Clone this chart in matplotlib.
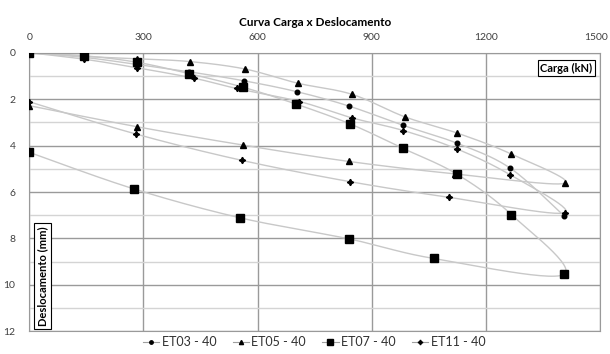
import matplotlib.pyplot as plt
import numpy as np
from matplotlib.transforms import ScaledTranslation

plt.rcParams['font.family'] = ['Lato', 'DejaVu Sans']

# carga (kN) e deslocamento (mm) de cada ensaio: carregamento e descarregamento
et03_carga = [0, 145, 282, 420, 565, 704, 841, 983, 1123, 1264, 1405]
et03_desl = [0, 0.20, 0.50, 0.82, 1.21, 1.68, 2.30, 3.13, 3.89, 4.97, 7.02]

et05_carga = [0, 145, 283, 422, 567, 705, 848, 987, 1123, 1265, 1408,
              1120, 839, 563, 284, 0]
et05_desl = [0, 0.16, 0.26, 0.38, 0.70, 1.31, 1.79, 2.76, 3.45, 4.35, 5.62,
             5.22, 4.68, 3.98, 3.19, 2.28]

et07_carga = [0, 145, 283, 420, 563, 701, 844, 981, 1125, 1267, 1405,
              1063, 841, 554, 274, 0]
et07_desl = [0, 0.13, 0.41, 0.90, 1.49, 2.21, 3.07, 4.11, 5.24, 6.97, 9.55,
             8.86, 8.02, 7.11, 5.86, 4.29]

et11_carga = [0, 145, 284, 434, 545, 710, 847, 983, 1125, 1264, 1407,
              1104, 842, 560, 280, 0]
et11_desl = [0, 0.28, 0.65, 1.10, 1.54, 2.10, 2.80, 3.35, 4.15, 5.26, 6.89,
             6.23, 5.55, 4.64, 3.50, 2.11]

nomes = ['ET03 - 40', 'ET05 - 40', 'ET07 - 40', 'ET11 - 40']
marcadores = [('o', 3.3), ('^', 4.0), ('s', 5.2), ((4, 1, 0), 4.6)]


def suavizar(x, y, n=30):
    # linha suavizada estilo Excel (bezier com tangentes de Catmull-Rom)
    p = np.column_stack([x, y]).astype(float)
    p = np.vstack([p[0], p, p[-1]])
    t = np.linspace(0, 1, n)[:, None]
    pts = []
    for i in range(1, len(p) - 2):
        p0, p3 = p[i], p[i + 1]
        c1 = p0 + (p[i + 1] - p[i - 1]) / 6
        c2 = p3 - (p[i + 2] - p[i]) / 6
        seg = ((1 - t) ** 3 * p0 + 3 * (1 - t) ** 2 * t * c1
               + 3 * (1 - t) * t ** 2 * c2 + t ** 3 * p3)
        pts.append(seg)
    pts = np.vstack(pts)
    return pts[:, 0], pts[:, 1]


fig = plt.figure(figsize=(6.1, 3.54), dpi=100)
ax = fig.add_axes([0.048, 0.064, 0.9356, 0.787])

dados = [(et03_carga, et03_desl), (et05_carga, et05_desl),
         (et07_carga, et07_desl), (et11_carga, et11_desl)]
for (cx, dy), nome, (mk, ms) in zip(dados, nomes, marcadores):
    sx, sy = suavizar(cx, dy)
    ax.plot(sx, sy, color='#c8c8c8', lw=1.0, zorder=2)
    ax.plot(cx, dy, ls='none', marker=mk, ms=ms, color='black', zorder=3)
    ax.plot([], [], color='#a0a0a0', lw=0.8, marker=mk, ms=ms * 0.75,
            mfc='black', mec='black', label=nome)

ax.set_xlim(0, 1500)
ax.set_ylim(12, 0)
ax.set_xticks([0, 300, 600, 900, 1200, 1500])
ax.set_yticks([0, 2, 4, 6, 8, 10, 12])
ax.set_yticks([1, 3, 5, 7, 9, 11], minor=True)
ax.xaxis.tick_top()
ax.tick_params(which='both', length=0, labelsize=7.5, colors='#404040', pad=8)
ax.tick_params(axis='y', pad=10)
ax.grid(True, which='major', color='#9a9a9a', lw=1.0)
ax.grid(True, which='minor', axis='y', color='#d4d4d4', lw=1.0)
ax.set_axisbelow(True)
for s in ax.spines.values():
    s.set_color('#9a9a9a')

# o último rótulo do eixo x fica um pouco para dentro da figura
fig.canvas.draw()
ultimo = ax.get_xticklabels()[-1]
ultimo.set_transform(ultimo.get_transform()
                     + ScaledTranslation(-3 / 72, 0, fig.dpi_scale_trans))

ax.set_title('Curva Carga x Deslocamento', fontsize=8.5, fontweight='bold',
             pad=19)
ax.text(0.987, 0.965, 'Carga (kN)', transform=ax.transAxes, ha='right',
        va='top', fontsize=8, fontweight='bold',
        bbox=dict(boxstyle='square,pad=0.25', fc='white', ec='black', lw=0.8))
ax.text(0.014, 0.02, 'Deslocamento (mm)', transform=ax.transAxes,
        rotation=90, ha='left', va='bottom', fontsize=8, fontweight='bold',
        bbox=dict(boxstyle='square,pad=0.25', fc='white', ec='black', lw=0.8))

fig.legend(loc='lower center', bbox_to_anchor=(0.515, -0.015), ncol=4,
           frameon=False, fontsize=9, handlelength=1.3, handletextpad=0.2,
           columnspacing=1.3, labelcolor='#303030')

fig.savefig('out.png', dpi=100)
